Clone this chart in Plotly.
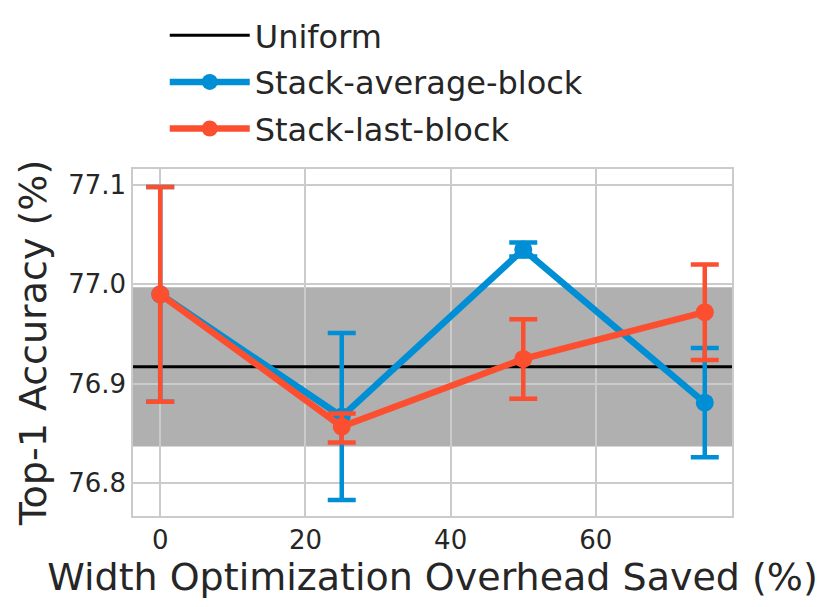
import plotly.graph_objects as go

# Data
overhead_saved = [0, 25, 50, 75]
avg_block_acc = [76.990, 76.867, 77.035, 76.881]
avg_block_err_plus = [0.108, 0.084, 0.007, 0.055]
avg_block_err_minus = [0.108, 0.084, 0.007, 0.055]
last_block_acc = [76.990, 76.857, 76.925, 76.972]
last_block_err_plus = [0.108, 0.013, 0.040, 0.048]
last_block_err_minus = [0.108, 0.016, 0.040, 0.048]
uniform_mean = 76.917
uniform_std = 0.080

x_range = [-3.75, 78.75]
y_range = [76.767, 77.116]
x_ticks = [0, 20, 40, 60]
y_ticks = [76.8, 76.9, 77.0, 77.1]

BLUE = "#008fd5"
RED = "#fc4f30"
FONT = "DejaVu Sans"
TXT = "#262626"

fig = go.Figure()

fig.add_trace(go.Scatter(
    x=x_range, y=[uniform_mean, uniform_mean], mode="lines",
    line=dict(color="black", width=3), name="Uniform", legendgroup="a",
))
fig.add_trace(go.Scatter(
    x=overhead_saved, y=avg_block_acc, mode="lines+markers",
    line=dict(color=BLUE, width=6.5), marker=dict(size=18, color=BLUE),
    error_y=dict(type="data", array=avg_block_err_plus, arrayminus=avg_block_err_minus,
                 color=BLUE, thickness=4.5, width=14),
    name="Stack-average-block", legendgroup="b",
))
fig.add_trace(go.Scatter(
    x=overhead_saved, y=last_block_acc, mode="lines+markers",
    line=dict(color=RED, width=6.5), marker=dict(size=18, color=RED),
    error_y=dict(type="data", array=last_block_err_plus, arrayminus=last_block_err_minus,
                 color=RED, thickness=4.5, width=14),
    name="Stack-last-block", legendgroup="c",
))

fig.add_shape(type="rect", xref="x domain", yref="y", x0=0, x1=1,
              y0=uniform_mean - uniform_std, y1=uniform_mean + uniform_std,
              fillcolor="rgba(0,0,0,0.31)", line=dict(width=0), layer="below")

fig.update_layout(
    width=830, height=607,
    margin=dict(l=125, r=106, t=161, b=99, autoexpand=False),
    paper_bgcolor="white", plot_bgcolor="white",
    font=dict(family=FONT, color=TXT),
    showlegend=True,
    legend=dict(x=0.053, y=1.0, xanchor="left", yanchor="top", yref="container",
                font=dict(size=32, family=FONT, color=TXT),
                bgcolor="rgba(0,0,0,0)", itemwidth=80, tracegroupgap=2,
                traceorder="grouped"),
)
fig.update_xaxes(
    range=x_range, tickvals=x_ticks, showgrid=True, gridcolor="#cbcbcb", gridwidth=1.5,
    zeroline=False, showline=True, linecolor="#cbcbcb", linewidth=1.5, mirror=True,
    tickfont=dict(size=26, family=FONT, color=TXT), ticks="",
    title=dict(text="Width Optimization Overhead Saved (%)", font=dict(size=38, family=FONT, color=TXT), standoff=6),
)
fig.update_yaxes(
    range=y_range, tickvals=y_ticks, tickformat=".1f", showgrid=True, gridcolor="#cbcbcb", gridwidth=1.5,
    zeroline=False, showline=True, linecolor="#cbcbcb", linewidth=1.5, mirror=True,
    tickfont=dict(size=26, family=FONT, color=TXT), ticks="",
    title=dict(text="Top-1 Accuracy (%)", font=dict(size=38, family=FONT, color=TXT), standoff=10),
)

fig.write_html("out.html")
